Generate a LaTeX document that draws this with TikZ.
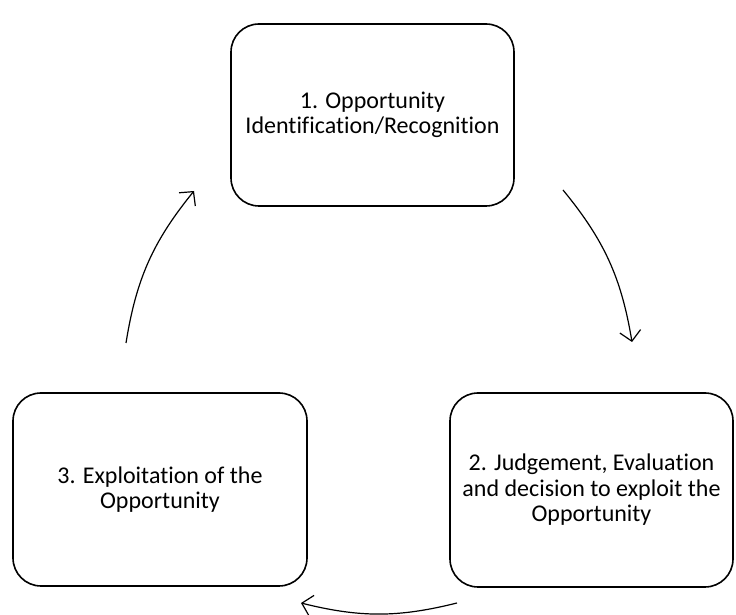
\documentclass[tikz,border=0pt]{standalone}
\usepackage{fontspec}
\setmainfont{Carlito}[RawFeature=-liga]
\usetikzlibrary{arrows.meta}
\begin{document}
\begin{tikzpicture}[x=1pt,y=1pt,
  stage/.style={draw=black, line width=1.6pt, rounded corners=28pt,
    align=center, font=\fontsize{24}{25.5}\selectfont, inner sep=0pt},
  cycle/.style={line width=1.2pt, -{Straight Barb[length=10pt,width=21pt,line width=1.2pt]}}]
  \useasboundingbox (0,0) rectangle (736,615);
  % the three stages of the cycle
  \node[stage, minimum width=283pt, minimum height=182pt] (s1) at (372.5,500)
    {1. Opportunity\\Identification/Recognition};
  \node[stage, minimum width=283pt, minimum height=194pt] (s2) at (591.5,125)
    {2. Judgement, Evaluation\\and decision to exploit the\\Opportunity};
  \node[stage, minimum width=294pt, minimum height=193pt] (s3) at (160,125.5)
    {3. Exploitation of the\\Opportunity};
  % free ends of the curved arrows
  \coordinate (r1) at (563,425);
  \coordinate (r2) at (632,273);
  \coordinate (b1) at (457,12);
  \coordinate (b2) at (301,12);
  \coordinate (l1) at (126,272);
  \coordinate (l2) at (194,424);
  \draw[cycle] (r1) to[bend left=15] (r2);
  \draw[cycle] (b1) to[bend left=14] (b2);
  \draw[cycle] (l1) to[bend left=15] (l2);
\end{tikzpicture}
\end{document}
